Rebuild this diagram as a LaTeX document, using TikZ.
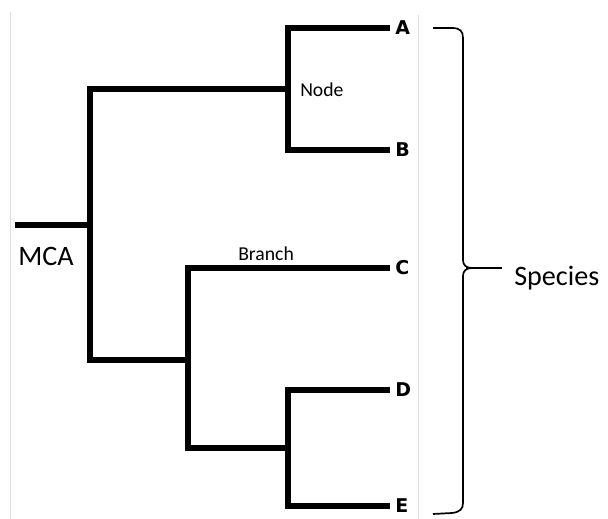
\documentclass[tikz,border=0pt]{standalone}
\usepackage{fontspec}
\setmainfont{Carlito}
\newfontfamily\leaffont{DejaVu Sans}
\usetikzlibrary{positioning}

\begin{document}
\begin{tikzpicture}[x=0.025cm, y=-0.025cm,
  branchline/.style={line width=4.2pt, line cap=butt, line join=miter},
  leaf/.style={anchor=west, inner xsep=1.3mm, inner ysep=0pt, font=\leaffont\bfseries\fontsize{13.5}{15}\selectfont},
  bracket/.style={line width=1.2pt},
  guide/.style={gray!25, line width=0.6pt},
  lbl/.style={anchor=base west, inner sep=0pt, font=\fontsize{14}{16}\selectfont},
  biglbl/.style={anchor=base west, inner sep=0pt, font=\fontsize{20}{22}\selectfont}
]
  \useasboundingbox (0,0) rectangle (608,519);

  % Define X coordinates for the split points
  \def\rootX{90}
  \def\cdeX{188}
  \def\abX{288}
  \def\deX{288}
  \def\tipX{390}

  % Faint page edges
  \draw[guide] (10,12) -- (10,519);
  \draw[guide] (418,15) -- (418,519);

  % Split points of the tree
  \coordinate (stub) at (15,225);
  \coordinate (root) at (\rootX,225);
  \coordinate (ab)   at (\abX,89);
  \coordinate (cde)  at (\cdeX,360);
  \coordinate (de)   at (\deX,448);

  % Species at the tips
  \node[leaf] (A) at (\tipX,28)  {A};
  \node[leaf] (B) at (\tipX,150) {B};
  \node[leaf] (C) at (\tipX,268) {C};
  \node[leaf] (D) at (\tipX,390) {D};
  \node[leaf] (E) at (\tipX,506) {E};

  % Branches
  \draw[branchline] (stub) -- (root);
  \draw[branchline] (ab) -| (root) |- (cde);
  \draw[branchline] (A.west) -| (ab) |- (B.west);
  \draw[branchline] (C.west) -| (cde) |- (de);
  \draw[branchline] (D.west) -| (de) |- (E.west);

  % Labels
  \node[biglbl] (mca) at (18,266) {MCA};
  \node[lbl] (nodelbl) at (300,97) {Node};
  \node[lbl] (branchlbl) at (238,261) {Branch};

  % Bracket round the species
  \coordinate (tip) at (502,268);
  \draw[bracket] (433,28) -- (452,28) .. controls (460,28) and (463,31) .. (463,38)
    -- (463,260) .. controls (463,265) and (466,268) .. (472,268);
  \draw[bracket] (433,514) -- (452,513) .. controls (460,512) and (463,509) .. (463,503)
    -- (463,276) .. controls (463,271) and (466,268) .. (472,268);
  \draw[bracket] (466,268) -- (tip);
  \node[biglbl] (species) at (514,286) {Species};

\end{tikzpicture}
\end{document}
